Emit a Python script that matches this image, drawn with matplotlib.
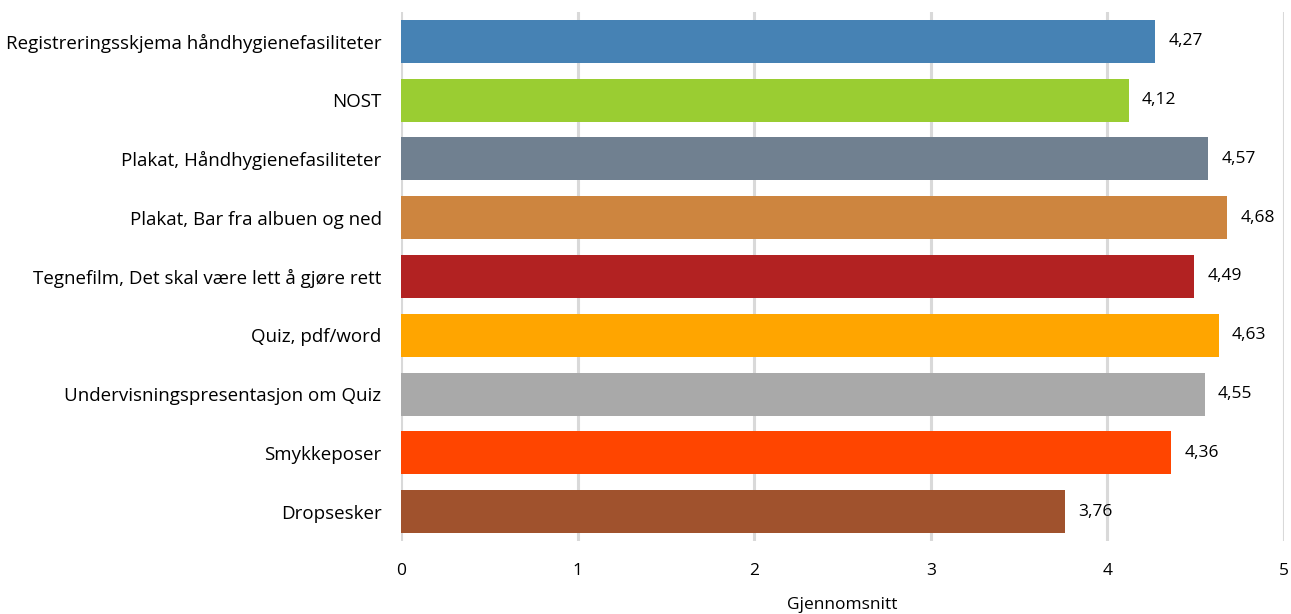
import matplotlib
matplotlib.use("Agg")
import matplotlib.pyplot as plt

categories = [
    "Registreringsskjema håndhygienefasiliteter",
    "NOST",
    "Plakat, Håndhygienefasiliteter",
    "Plakat, Bar fra albuen og ned",
    "Tegnefilm, Det skal være lett å gjøre rett",
    "Quiz, pdf/word",
    "Undervisningspresentasjon om Quiz",
    "Smykkeposer",
    "Dropsesker",
]
values = [4.27, 4.12, 4.57, 4.68, 4.49, 4.63, 4.55, 4.36, 3.76]
colors = ["#4682B4", "#9ACD32", "#708090", "#CD853F", "#B22222",
          "#FFA500", "#A9A9A9", "#FF4500", "#A0522D"]

plt.rcParams["font.family"] = ["Open Sans", "DejaVu Sans"]
FS = 12.5

fig = plt.figure(figsize=(12.91, 6.14), dpi=100)
ax = fig.add_axes([401 / 1291, 1 - 541 / 614, 883 / 1291, 529 / 614])

ypos = list(range(len(categories)))
ax.barh(ypos, values, height=0.73, color=colors, zorder=2)
for y, v in zip(ypos, values):
    ax.text(v + 0.075, y, f"{v:.2f}".replace(".", ","), va="center", ha="left",
            fontsize=FS, color="black", zorder=3)

ax.set_xlim(0, 5)
ax.set_ylim(len(categories) - 0.5, -0.5)
ax.set_yticks(ypos)
ax.set_yticklabels(categories, fontsize=13.5)
ax.set_xticks(range(6))
ax.set_xticklabels([str(i) for i in range(6)], fontsize=FS)
ax.tick_params(axis="y", length=0, pad=14)
ax.tick_params(axis="x", length=0, pad=16)
ax.grid(axis="x", color="#D9D9D9", lw=2.2, zorder=0)
for s in ax.spines.values():
    s.set_visible(False)
ax.set_xlabel("Gjennomsnitt", fontsize=FS, labelpad=13)

fig.savefig("out.png", dpi=100)
